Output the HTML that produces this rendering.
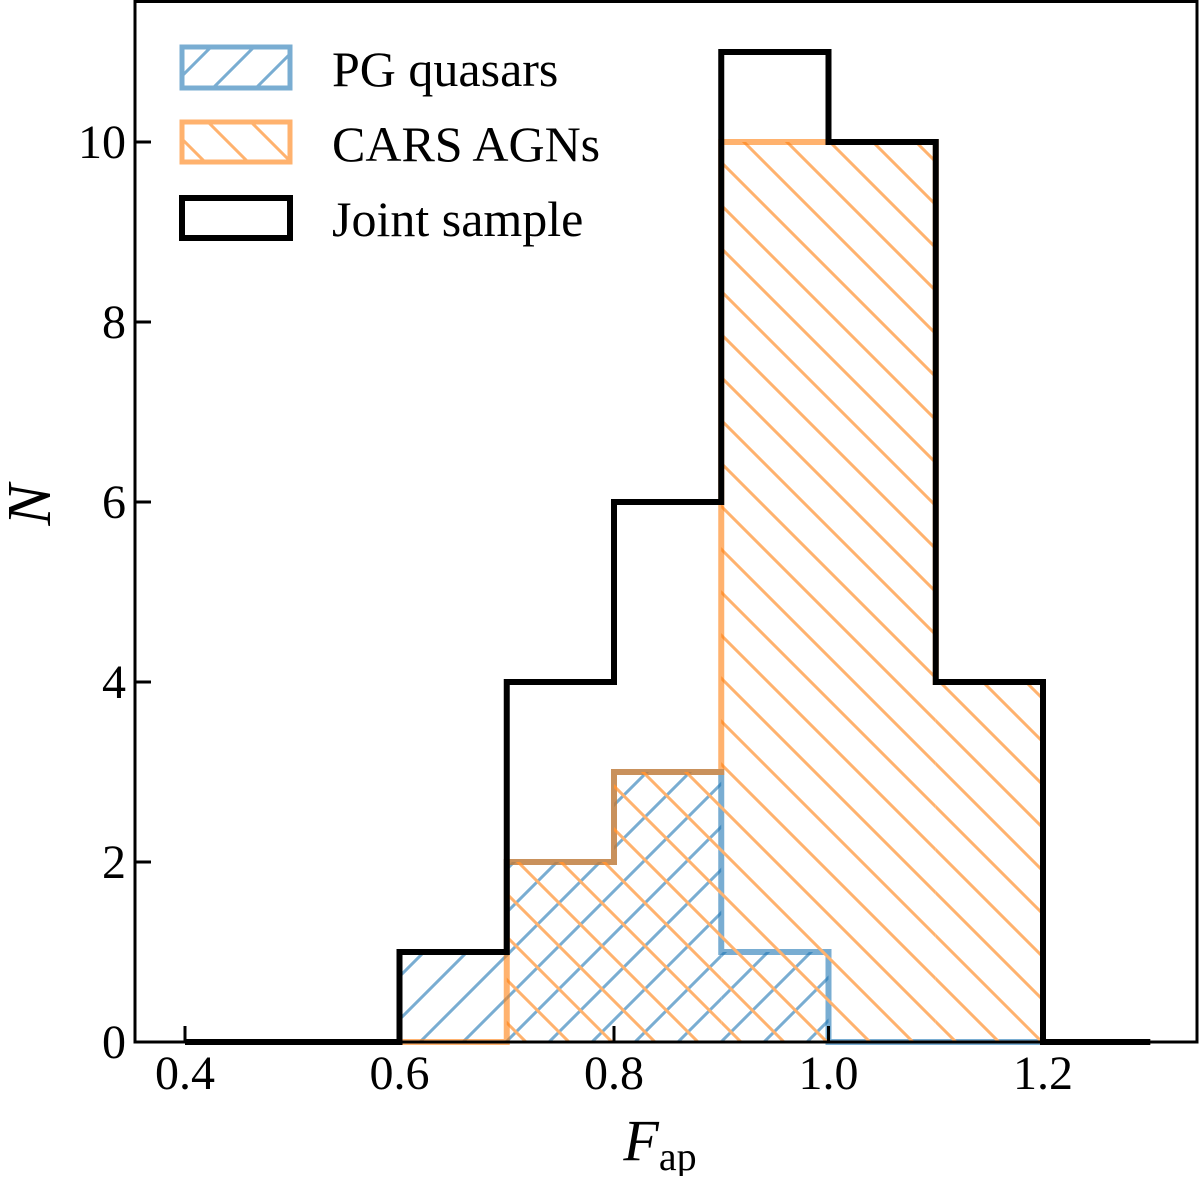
<!DOCTYPE html>
<html><head><meta charset="utf-8"><style>
html,body{margin:0;padding:0;background:#fff;}
svg, svg text{font-family:"Times New Roman","Liberation Serif","Times","DejaVu Serif",serif;fill:#000;}
</style></head><body>
<svg id="chart" width="1200" height="1176" viewBox="0 0 1200 1176" xmlns="http://www.w3.org/2000/svg">
<defs>
<pattern id="hatchBlue" patternUnits="userSpaceOnUse" width="43" height="43">
<path d="M-5,5 L5,-5 M0,43 L43,0 M38,48 L48,38" stroke="#79add2" stroke-width="3"/>
</pattern>
<pattern id="hatchOrange" patternUnits="userSpaceOnUse" width="43" height="43">
<path d="M-5,38 L5,48 M0,0 L43,43 M38,-5 L48,5" stroke="#ffb26e" stroke-width="3"/>
</pattern>
</defs>
<g id="plot"></g>
<g id="legend">
<rect x="182" y="47" width="108" height="41" fill="url(#hatchBlue)" stroke="#79add2" stroke-width="5"/>
<text x="332" y="86" font-size="50">PG quasars</text>
<rect x="182" y="122" width="108" height="40" fill="url(#hatchOrange)" stroke="#ffb26e" stroke-width="5"/>
<text x="332" y="161" font-size="50">CARS AGNs</text>
<rect x="182" y="198" width="108" height="40" fill="none" stroke="#000" stroke-width="6"/>
<text x="332" y="236" font-size="50">Joint sample</text>
</g>
<text x="0" y="0" font-size="62" font-style="italic" transform="translate(50,505) rotate(-90)" text-anchor="middle">N</text>
<text x="660" y="1160" font-size="58" text-anchor="middle"><tspan font-style="italic">F</tspan><tspan font-size="40" dy="10">ap</tspan></text>
</svg>
<script>
const binEdges = [0.4,0.5,0.6,0.7,0.8,0.9,1.0,1.1,1.2,1.3];
const pgCounts = [0,0,1,2,3,1,0,0,0];
const carsCounts = [0,0,0,2,3,10,10,4,0];
const jointCounts = [0,0,1,4,6,11,10,4,0];
const xTicks = [0.4,0.6,0.8,1.0,1.2];
const xTickLabels = ["0.4","0.6","0.8","1.0","1.2"];
const yTicks = [0,2,4,6,8,10];
const yTickLabels = ["0","2","4","6","8","10"];

const NS = "http://www.w3.org/2000/svg";
const x = v => 185 + (v - 0.4) * 1072.5;
const y = v => 1042 - v * 90;
const plot = document.getElementById('plot');

function stepPath(counts){
  let d = "M" + x(binEdges[0]) + "," + y(0);
  for (let i = 0; i < counts.length; i++){
    d += " L" + x(binEdges[i]) + "," + y(counts[i]) + " L" + x(binEdges[i+1]) + "," + y(counts[i]);
  }
  d += " L" + x(binEdges[binEdges.length-1]) + "," + y(0);
  return d;
}
function addBars(counts, fill, name){
  for (let i = 0; i < counts.length; i++){
    if (counts[i] <= 0) continue;
    const r = document.createElementNS(NS, 'rect');
    
    
    r.setAttribute('x', x(binEdges[i]));
    r.setAttribute('y', y(counts[i]));
    r.setAttribute('width', x(binEdges[i+1]) - x(binEdges[i]));
    r.setAttribute('height', y(0) - y(counts[i]));
    r.setAttribute('fill', fill);
    plot.appendChild(r);
  }
}
function addStep(counts, stroke, w, name){
  const p = document.createElementNS(NS, 'path');
  
  
  p.setAttribute('d', stepPath(counts));
  p.setAttribute('fill', 'none');
  p.setAttribute('stroke', stroke);
  p.setAttribute('stroke-width', w);
  p.setAttribute('stroke-opacity', stroke === '#000' ? 1 : 0.6);
  plot.appendChild(p);
}
addBars(pgCounts, 'url(#hatchBlue)', 'pg');
addStep(pgCounts, '#1f77b4', 6, 'pg-quasars-histogram');
addBars(carsCounts, 'url(#hatchOrange)', 'cars');
addStep(carsCounts, '#ff7f0e', 6, 'cars-agns-histogram');
addStep(jointCounts, '#000', 6, 'joint-sample-histogram');

const f = document.createElementNS(NS, 'rect');


f.setAttribute('x', 135); f.setAttribute('y', 1.5);
f.setAttribute('width', 1062); f.setAttribute('height', 1040.5);
f.setAttribute('fill', 'none'); f.setAttribute('stroke', '#000'); f.setAttribute('stroke-width', 3);
plot.appendChild(f);

xTicks.forEach((t, i) => {
  const l = document.createElementNS(NS, 'line');
  
  
  l.setAttribute('x1', x(t)); l.setAttribute('x2', x(t));
  l.setAttribute('y1', 1042); l.setAttribute('y2', 1026);
  l.setAttribute('stroke', '#000'); l.setAttribute('stroke-width', 3);
  plot.appendChild(l);
  const tx = document.createElementNS(NS, 'text');
  
  
  tx.setAttribute('x', x(t)); tx.setAttribute('y', 1089);
  tx.setAttribute('font-size', 48); tx.setAttribute('text-anchor', 'middle');
  tx.textContent = xTickLabels[i];
  plot.appendChild(tx);
});
yTicks.forEach((t, i) => {
  const l = document.createElementNS(NS, 'line');
  
  
  l.setAttribute('x1', 135); l.setAttribute('x2', 151);
  l.setAttribute('y1', y(t)); l.setAttribute('y2', y(t));
  l.setAttribute('stroke', '#000'); l.setAttribute('stroke-width', 3);
  plot.appendChild(l);
  const tx = document.createElementNS(NS, 'text');
  
  
  tx.setAttribute('x', 126); tx.setAttribute('y', y(t) + 16);
  tx.setAttribute('font-size', 48); tx.setAttribute('text-anchor', 'end');
  tx.textContent = yTickLabels[i];
  plot.appendChild(tx);
});
</script>
</body></html>
